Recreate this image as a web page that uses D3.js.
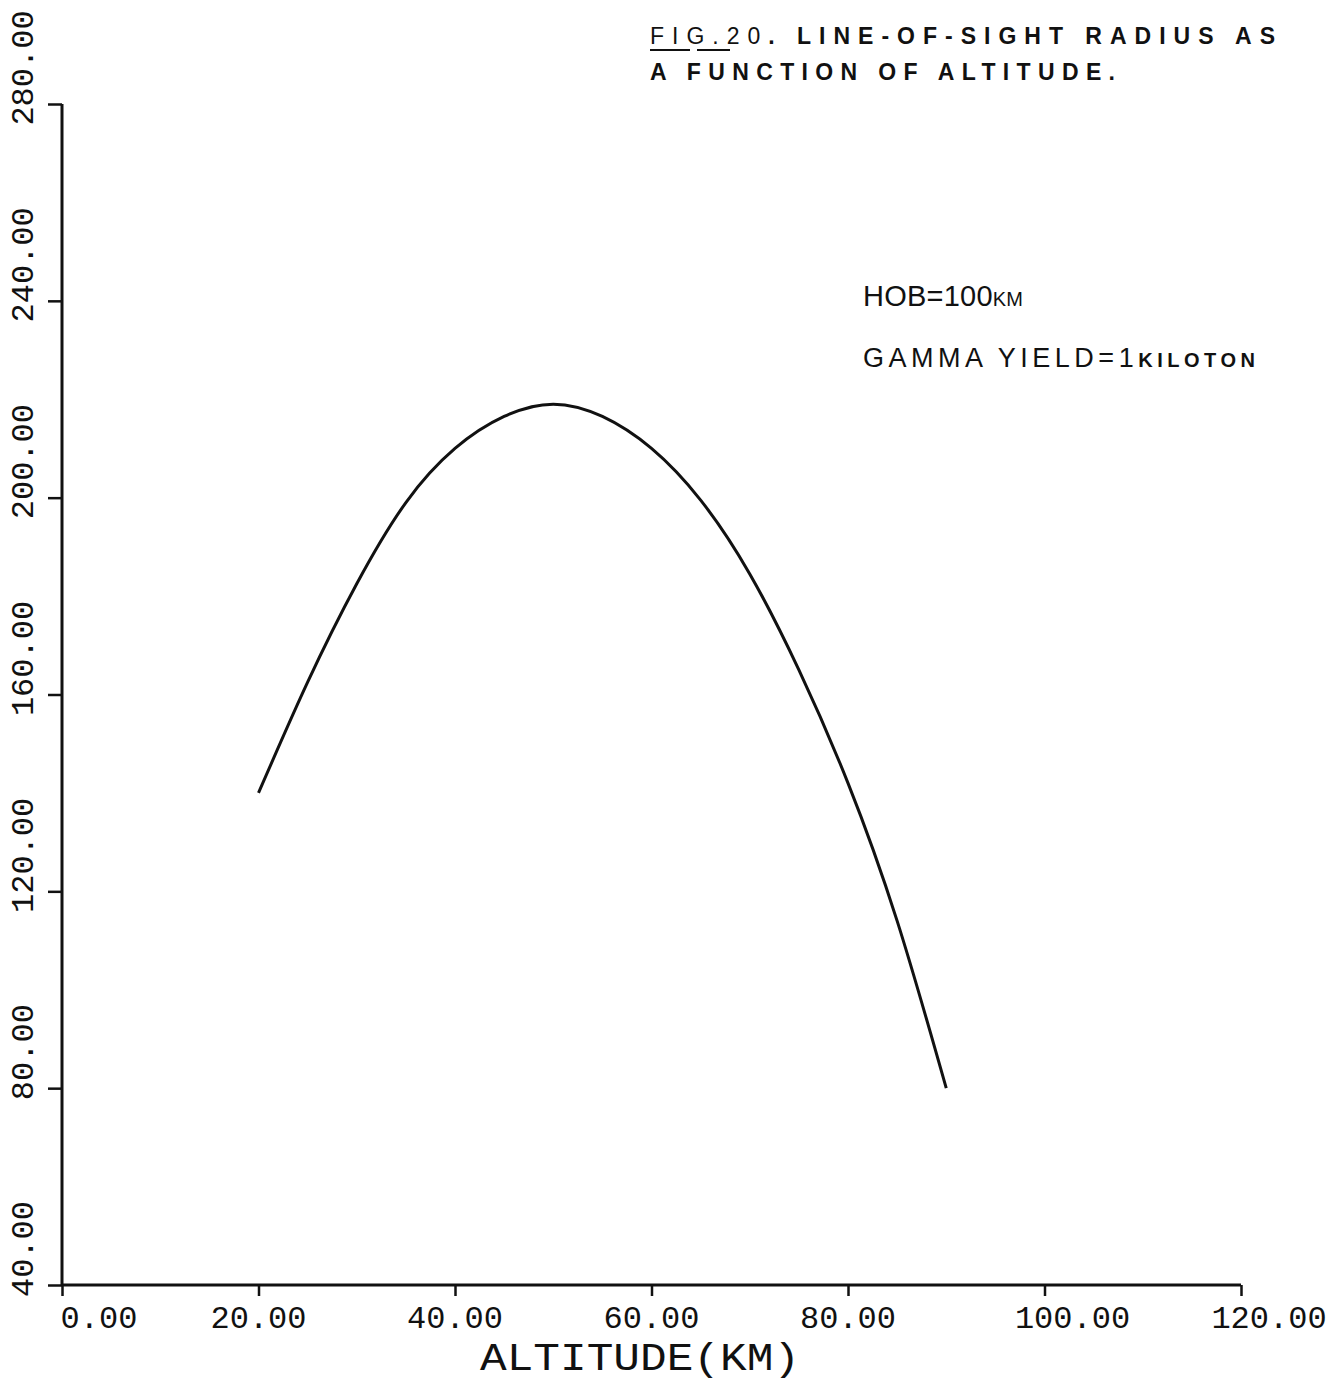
<!DOCTYPE html>
<html>
<head>
<meta charset="utf-8">
<script src="https://cdn.jsdelivr.net/npm/d3@7"></script>
<style>
  body { margin: 0; background: #fff; }
  svg { display: block; }
  .tick-label { font-family: "Liberation Mono", "DejaVu Sans Mono", monospace; font-size: 32px; fill: #111; }
  .note { font-family: "Liberation Sans", Arial, sans-serif; fill: #111; }
</style>
</head>
<body>
<script>
// altitude (km) vs line-of-sight radius (km)
var altitude = [20, 25, 30, 35, 40, 45, 50, 55, 60, 65, 70, 75, 80, 85, 90];
var radius   = [140, 162.5, 182.5, 199, 210, 216.5, 219, 216.5, 210, 199.5, 184.5, 165, 142, 114, 80];

var xTicks = [0, 20, 40, 60, 80, 100, 120];
var yTicks = [40, 80, 120, 160, 200, 240, 280];

var margin = { top: 104, right: 103, bottom: 97, left: 62 },
    width = 1344 - margin.left - margin.right,
    height = 1382 - margin.top - margin.bottom;

var ink = "#111";
var fmt = d3.format(".2f");

var svg = d3.select("body").append("svg")
    .attr("width", 1344)
    .attr("height", 1382);

var g = svg.append("g")
    .attr("transform", "translate(" + margin.left + "," + margin.top + ")");

var x = d3.scaleLinear().domain([0, 120]).range([0, width]);
var y = d3.scaleLinear().domain([40, 280]).range([height, 0]);

// x axis: ticks hang down
var xAxis = d3.axisBottom(x).tickValues(xTicks).tickSize(11).tickFormat("");
var gx = g.append("g")
    .attr("transform", "translate(0," + height + ")")
    .call(xAxis);
gx.select(".domain").attr("stroke", ink).attr("stroke-width", 3).attr("d", "M0,0H" + width);
gx.selectAll(".tick line").attr("stroke", ink).attr("stroke-width", 2.5);

// y axis: ticks point left
var yAxis = d3.axisLeft(y).tickValues(yTicks).tickSize(14).tickFormat("");
var gy = g.append("g").call(yAxis);
gy.select(".domain").attr("stroke", ink).attr("stroke-width", 3).attr("d", "M0," + height + "V0");
gy.selectAll(".tick line").attr("stroke", ink).attr("stroke-width", 2.5);

// x tick labels
g.selectAll(".xlab")
    .data(xTicks)
    .enter().append("text")
    .attr("class", "tick-label")
    .attr("text-anchor", "middle")
    .attr("x", function (d) { return x(d) + (d === 0 ? 37 : (d >= 100 ? 28 : 0)); })
    .attr("y", height + 43)
    .text(function (d) { return fmt(d); });

// y tick labels, rotated
g.selectAll(".ylab")
    .data(yTicks)
    .enter().append("text")
    .attr("class", "tick-label")
    .attr("text-anchor", "middle")
    .attr("transform", function (d) {
        return "translate(" + (-29) + "," + (y(d) - 36) + ") rotate(-90)";
    })
    .text(function (d) { return fmt(d); });

// x axis title
svg.append("text")
    .attr("transform", "translate(480,1370) scale(1,1.15)")
    .attr("textLength", 320)
    .attr("lengthAdjust", "spacingAndGlyphs")
    .style("font-family", "'Liberation Mono', 'DejaVu Sans Mono', monospace")
    .style("font-size", "34px")
    .style("fill", ink)
    .text("ALTITUDE(KM)");

// the curve
var line = d3.line()
    .x(function (d, i) { return x(altitude[i]); })
    .y(function (d) { return y(d); })
    .curve(d3.curveNatural);

g.append("path")
    .datum(radius)
    .attr("fill", "none")
    .attr("stroke", ink)
    .attr("stroke-width", 3)
    .attr("d", line);

// caption, top right
var cap1 = svg.append("text").attr("class", "note")
    .attr("x", 650).attr("y", 44)
    .attr("textLength", 625).attr("lengthAdjust", "spacing")
    .style("font-size", "23px");
cap1.append("tspan").text("FIG.20");
cap1.append("tspan").style("font-weight", "bold").text(". LINE-OF-SIGHT RADIUS AS");

svg.append("text").attr("class", "note")
    .attr("x", 650).attr("y", 80)
    .attr("textLength", 465).attr("lengthAdjust", "spacing")
    .style("font-size", "23px")
    .style("font-weight", "bold")
    .text("A FUNCTION OF ALTITUDE.");

// underline under FIG and 20
svg.append("line").attr("x1", 650).attr("x2", 690).attr("y1", 50).attr("y2", 50)
    .attr("stroke", ink).attr("stroke-width", 2);
svg.append("line").attr("x1", 697).attr("x2", 730).attr("y1", 50).attr("y2", 50)
    .attr("stroke", ink).attr("stroke-width", 2);

// annotations
var hob = svg.append("text").attr("class", "note")
    .attr("x", 863).attr("y", 306)
    .attr("textLength", 160).attr("lengthAdjust", "spacing")
    .style("font-size", "29px");
hob.append("tspan").text("HOB=100");
hob.append("tspan").style("font-size", "20px").text("KM");

var gam = svg.append("text").attr("class", "note")
    .attr("x", 863).attr("y", 367)
    .attr("textLength", 392).attr("lengthAdjust", "spacing")
    .style("font-size", "27px");
gam.append("tspan").text("GAMMA YIELD=1");
gam.append("tspan").style("font-size", "20px").style("font-weight", "bold").text("KILOTON");
</script>
</body>
</html>
